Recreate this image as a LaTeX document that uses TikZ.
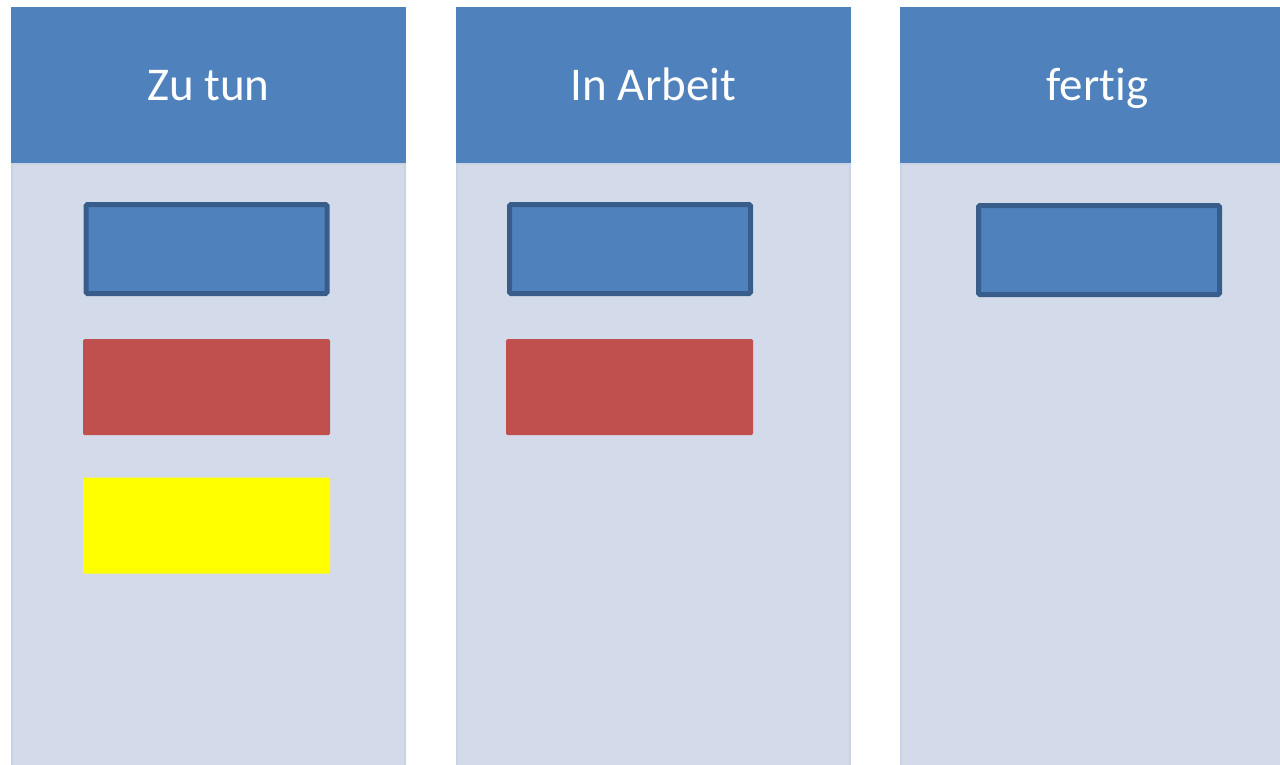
\documentclass[tikz,border=0pt]{standalone}
\usepackage{fontspec}
\setmainfont[Ligatures=NoCommon]{Carlito}
\definecolor{kopfblau}{HTML}{4F81BD}
\definecolor{randblau}{HTML}{385D8A}
\definecolor{spaltengrau}{HTML}{D3DBEA}
\definecolor{spaltenrand}{HTML}{C9D3E6}
\definecolor{kartenrot}{HTML}{C0504D}
\definecolor{kartengelb}{HTML}{FFFF00}
\tikzset{
  kopf/.style={fill=kopfblau, minimum width=395pt, minimum height=156pt,
    inner sep=0pt, text height=40pt, text depth=10pt, text=white,
    font=\fontsize{47}{56}\selectfont},
  spalte/.style={fill=spaltengrau, draw=spaltenrand, line width=1.5pt,
    minimum width=393pt, minimum height=640pt, inner sep=0pt, anchor=north},
  karte/.style={minimum width=247pt, minimum height=96pt, inner sep=0pt,
    rounded corners=1.5pt},
  blaukarte/.style={karte, fill=kopfblau, draw=randblau, line width=5pt,
    minimum width=241pt, minimum height=89pt},
  rotkarte/.style={karte, fill=kartenrot},
  gelbkarte/.style={karte, fill=kartengelb}
}
\begin{document}
\begin{tikzpicture}[x=1pt, y=-1pt]
  \useasboundingbox[fill=white] (0,0) rectangle (1280,764);
  \clip (0,0) rectangle (1280,764);
  % Spalten
  \node[spalte] (s1) at (208.5,163) {};
  \node[spalte] (s2) at (653.5,163) {};
  \node[spalte] (s3) at (1097.5,163) {};
  \node[kopf] (k1) at (208.5,85) {Zu tun};
  \node[kopf] (k2) at (653.5,85) {In Arbeit};
  \node[kopf] (k3) at (1097.5,85) {fertig};
  % Karten
  \node[blaukarte] (z1) at (206.5,249) {};
  \node[rotkarte] (z2) at (206.5,387) {};
  \node[gelbkarte] (z3) at (206.5,525.5) {};
  \node[blaukarte] (a1) at (630,249) {};
  \node[rotkarte] (a2) at (629.5,387) {};
  \node[blaukarte] (f1) at (1099,250) {};
\end{tikzpicture}
\end{document}
